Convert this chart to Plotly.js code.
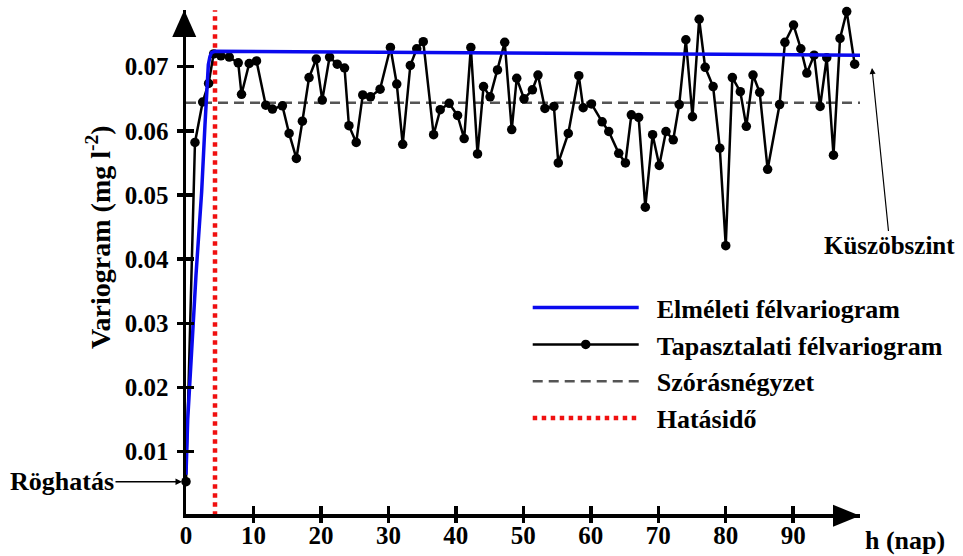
<!DOCTYPE html>
<html><head><meta charset="utf-8">
<script src="https://cdn.plot.ly/plotly-3.0.1.min.js"></script>
<style>html,body{margin:0;padding:0;background:#fff}#chart{width:963px;height:556px}</style>
</head><body><div id="chart"></div>
<script>
// Tapasztalati (experimental) semivariogram: lag h (nap) and value
const expH = [0, 1.33, 2.47, 3.35, 4.1, 5.17, 6.41, 7.74, 8.23, 9.37, 10.45, 11.82, 12.81, 14.29, 15.28, 16.36, 17.25, 18.24, 19.31, 20.2, 21.28, 22.42, 23.5, 24.15, 25.23, 26.2, 27.34, 28.77, 30.3, 31.24, 32.12,
  33.25, 34.2, 35.17, 36.7, 37.68, 39.01, 40.25, 41.23, 42.22, 43.21, 44.1, 45.07, 46.17, 47.24, 48.28, 49.02, 50.1, 51.34, 52.17, 53.2, 54.53, 55.18, 56.66, 58.22, 58.87, 60.1, 61.68, 62.66, 64.14, 65.13,
  66.01, 67.09, 68.08, 69.16, 70.15, 71.14, 72.22, 73.1, 74.09, 75.07, 76.06, 76.95, 78.13, 79.12, 80.0, 80.98, 82.16, 83.05, 84.04, 85.03, 86.21, 87.98, 88.77, 90.05, 91.13, 92.02, 93.1, 93.99, 94.97, 95.97, 96.94, 97.93, 99.11];
const expV = [0.0053, 0.0582, 0.0645, 0.0674, 0.0720, 0.0717, 0.0715, 0.0706, 0.0657, 0.0705,
  0.0709, 0.0640, 0.0634, 0.0639, 0.0596, 0.0557, 0.0615, 0.0683, 0.0712, 0.0648,
  0.0715, 0.0704, 0.0698, 0.0608, 0.0582, 0.0656, 0.0653, 0.0665, 0.0730, 0.0673,
  0.0579,
  0.0702, 0.0728, 0.0739, 0.0594, 0.0633, 0.0643, 0.0624, 0.0588, 0.0730, 0.0564,
  0.0669, 0.0653, 0.0695, 0.0738, 0.0602, 0.0682, 0.0650, 0.0664, 0.0687, 0.0635,
  0.0638, 0.0550, 0.0596, 0.0686, 0.0636, 0.0642, 0.0614, 0.0599, 0.0565, 0.0550,
  0.0625, 0.0621, 0.0481, 0.0594, 0.0546, 0.0599, 0.0586, 0.0641, 0.0742, 0.0622,
  0.0774, 0.0699, 0.0669, 0.0573, 0.0421, 0.0683, 0.0661, 0.0607, 0.0687, 0.0660,
  0.0540, 0.0641, 0.0738, 0.0765, 0.0728, 0.0690, 0.0718, 0.0638, 0.0714, 0.0562,
  0.0744, 0.0786, 0.0704];
// Elméleti (theoretical) semivariogram
const modelH = [0, 0.25, 1.48, 2.32, 2.81, 3.31, 3.55, 3.8, 4.3, 100.5];
const modelV = [0.0064, 0.0149, 0.0375, 0.0505, 0.0609, 0.0703, 0.0716, 0.0722, 0.0724, 0.0718];
// Szórásnégyzet (variance) level
const sillH = [0, 99.9];
const sillV = [0.0644, 0.0644];
// Hatásidő (range)
const rangeH = [4.3, 4.3];
const rangeV = [0, 0.0788];

const seriesNames = ['Elméleti félvariogram', 'Tapasztalati félvariogram', 'Szórásnégyzet', 'Hatásidő'];
const xTickVals = [0, 10, 20, 30, 40, 50, 60, 70, 80, 90];
const xTickText = ['0', '10', '20', '30', '40', '50', '60', '70', '80', '90'];
const yTickVals = [0, 0.01, 0.02, 0.03, 0.04, 0.05, 0.06, 0.07];
const yTickText = ['0', '0.01', '0.02', '0.03', '0.04', '0.05', '0.06', '0.07'];

const FONT = 'Liberation Serif';
const f = (s) => ({family: FONT, size: s, color: '#000', weight: 700});
const XR = [0, 99.9];
const YR = [0.00027, 0.07884];
const pad = '\u00a0\u00a0';

const traces = [
  {x: sillH, y: sillV, mode: 'lines', name: pad + seriesNames[2], legendrank: 3,
   line: {color: '#555555', width: 2.5, dash: '10px,6px'}, hoverinfo: 'skip'},
  {x: rangeH, y: rangeV, mode: 'lines', name: pad + seriesNames[3], legendrank: 4,
   line: {color: '#f01010', width: 4.5, dash: 'dot'}, hoverinfo: 'skip'},
  {x: expH, y: expV, mode: 'lines+markers', name: pad + seriesNames[1], legendrank: 2, cliponaxis: false,
   line: {color: '#000', width: 2.5}, marker: {color: '#000', size: 9.5}},
  {x: modelH, y: modelV, mode: 'lines', name: pad + seriesNames[0], legendrank: 1,
   line: {color: '#0a0aee', width: 3.5}},
  {x: [], y: [], xaxis: 'x2', yaxis: 'y', showlegend: false},
  {x: [], y: [], xaxis: 'x3', yaxis: 'y', showlegend: false},
  {x: [], y: [], xaxis: 'x4', yaxis: 'y', showlegend: false},
  {x: [], y: [], xaxis: 'x', yaxis: 'y2', showlegend: false},
  {x: [], y: [], xaxis: 'x', yaxis: 'y3', showlegend: false}
];

const tickAxis = (extra) => Object.assign({showticklabels: false, showline: false, showgrid: false, zeroline: false,
  tickcolor: '#000', tickwidth: 3.5, ticklen: 8, fixedrange: true}, extra);

const layout = {
  width: 963, height: 556,
  margin: {l: 186, r: 103, t: 10, b: 42, pad: 0},
  paper_bgcolor: '#fff', plot_bgcolor: '#fff',
  font: f(25),
  showlegend: true,
  legend: {x: 0.507, y: 0.456, xanchor: 'left', yanchor: 'top', bgcolor: 'rgba(0,0,0,0)',
    font: f(26), itemwidth: 106, tracegroupgap: 0, traceorder: 'normal'},
  xaxis: {range: XR, showline: true, linewidth: 3.5, linecolor: '#000',
    showticklabels: false, ticks: '', showgrid: false, zeroline: false, fixedrange: true},
  xaxis2: tickAxis({overlaying: 'x', anchor: 'y', side: 'bottom', range: XR, tickmode: 'array', tickvals: xTickVals.slice(1), ticks: 'outside'}),
  xaxis3: tickAxis({overlaying: 'x', anchor: 'y', side: 'bottom', range: XR, tickmode: 'array', tickvals: xTickVals.slice(1), ticks: 'inside'}),
  xaxis4: {overlaying: 'x', anchor: 'free', position: 0, side: 'bottom', range: XR, tickmode: 'array',
    tickvals: xTickVals, ticktext: xTickText, ticks: '', showline: false, showgrid: false, zeroline: false,
    tickfont: f(25), ticklabelstandoff: 4, fixedrange: true},
  yaxis: {range: YR, showline: true, linewidth: 3.5, linecolor: '#000', tickmode: 'array',
    tickvals: yTickVals, ticktext: yTickText, ticks: '', showgrid: false, zeroline: false,
    tickfont: f(25), ticklabelstandoff: 9, fixedrange: true},
  yaxis2: tickAxis({overlaying: 'y', anchor: 'x', side: 'left', range: YR, tickmode: 'array', tickvals: yTickVals.slice(1), ticks: 'outside'}),
  yaxis3: tickAxis({overlaying: 'y', anchor: 'x', side: 'left', range: YR, tickmode: 'array', tickvals: yTickVals.slice(1), ticks: 'inside'}),
  shapes: [
    {type: 'path', xref: 'paper', yref: 'paper', xsizemode: 'pixel', ysizemode: 'pixel', xanchor: 0, yanchor: 1,
     path: 'M-13.75,-27 L-1.75,0 L10.25,-27 Z', fillcolor: '#000', line: {width: 0}},
    {type: 'path', xref: 'paper', yref: 'paper', xsizemode: 'pixel', ysizemode: 'pixel', xanchor: 1, yanchor: 0,
     path: 'M-27,9.25 L0,-1.75 L-27,-12.75 Z', fillcolor: '#000', line: {width: 0}}
  ],
  annotations: [
    {x: 0, y: expV[0], xref: 'x', yref: 'y', text: 'Röghatás', showarrow: true, ax: -124, ay: 0,
     arrowhead: 2, arrowsize: 1, arrowwidth: 1.3, arrowcolor: '#000', standoff: 4, font: f(26)},
    {x: 1.0178, y: 0.885, xref: 'paper', yref: 'paper', text: 'Küszöbszint', showarrow: true, ax: 18, ay: 178,
     arrowhead: 2, arrowsize: 1, arrowwidth: 1.2, arrowcolor: '#000', standoff: 0, font: f(25)},
    {x: 1.0668, y: -0.0516, xref: 'paper', yref: 'paper', text: 'h (nap)', showarrow: false,
     xanchor: 'center', yanchor: 'middle', font: f(26)},
    {x: -0.1305, y: 0.5496, xref: 'paper', yref: 'paper', text: 'Variogram (mg l<sup>-2</sup>)', showarrow: false,
     textangle: -90, xanchor: 'center', yanchor: 'middle', font: f(28)}
  ]
};

Plotly.newPlot('chart', traces, layout, {displayModeBar: false, staticPlot: true});
</script>
</body></html>
